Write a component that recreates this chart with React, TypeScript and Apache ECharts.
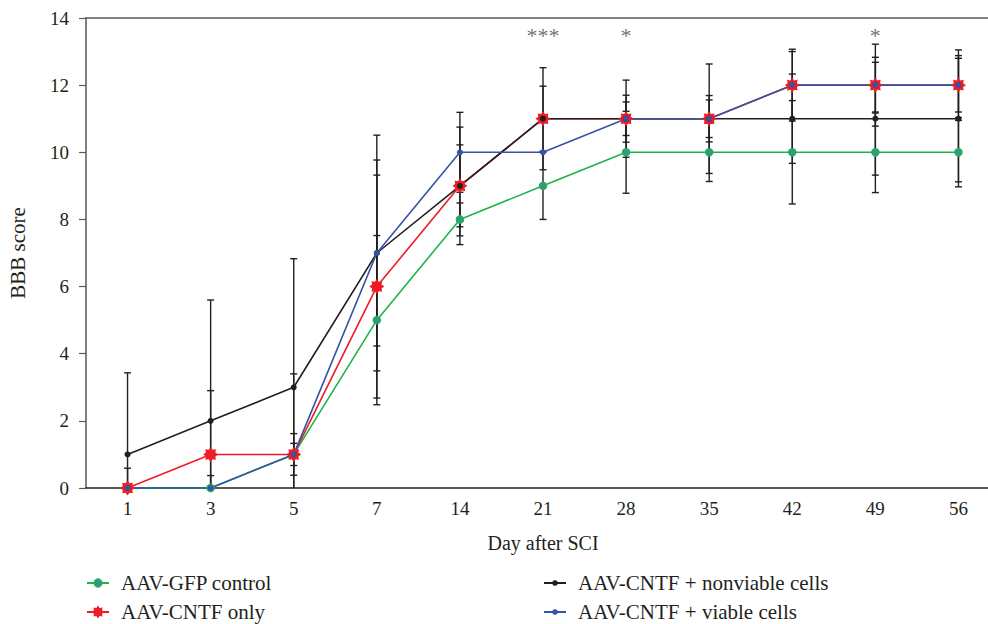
import React, { useEffect, useRef } from 'react';
import * as echarts from 'echarts';

const days = ['1', '3', '5', '7', '14', '21', '28', '35', '42', '49', '56'];

const gfpMean = [0, 0, 1, 5, 8, 9, 10, 10, 10, 10, 10];
const gfpSd = [0, 0.37, 0.62, 2.52, 0.49, 1.0, 1.22, 0.87, 1.54, 1.2, 1.03];

const cntfMean = [0, 1, 1, 6, 9, 11, 11, 11, 12, 12, 12];
const cntfSd = [0.59, 1.9, 0.33, 3.32, 1.75, 1.52, 1.15, 1.63, 1.07, 1.22, 1.05];

const nonMean = [1, 2, 3, 7, 9, 11, 11, 11, 11, 11, 11];
const nonSd = [2.43, 3.6, 3.83, 3.51, 1.22, 0.97, 0.5, 0.56, 1.33, 1.68, 1.88];

const viaMean = [0, 0, 1, 7, 10, 10, 11, 11, 12, 12, 12];
const viaSd = [0, 0, 2.4, 2.77, 1.19, 0, 0.7, 0.69, 1.0, 0.83, 0.8];

const seriesNames = [
  'AAV-GFP control',
  'AAV-CNTF only',
  'AAV-CNTF + nonviable cells',
  'AAV-CNTF + viable cells',
];

const sigDays = ['21', '28', '49'];
const sigLabels = ['***', '*', '*'];
const sigLevel = 13.55;

const yTicks = { min: 0, max: 14, interval: 2 };

const FONT = 'Liberation Serif';
const TXT = '#231f20';

function starPath(): string {
  const pts: string[] = [];
  const n = 16;
  for (let i = 0; i < n; i++) {
    const a = (i * Math.PI * 2) / n - Math.PI / 2;
    const r = i % 2 === 0 ? 1 : 0.68;
    const x = 1 + r * Math.cos(a);
    const y = 1 + r * Math.sin(a);
    pts.push((i === 0 ? 'M' : 'L') + x.toFixed(3) + ' ' + y.toFixed(3));
  }
  return 'path://' + pts.join(' ') + ' Z';
}

export default function App() {
  const ref = useRef<HTMLDivElement>(null);
  useEffect(() => {
    const chart = echarts.init(ref.current!, null, { renderer: 'svg' });

    const errData: number[][] = [];
    const groups = [
      [gfpMean, gfpSd],
      [cntfMean, cntfSd],
      [nonMean, nonSd],
      [viaMean, viaSd],
    ];
    groups.forEach(([m, s]) => {
      m.forEach((v, i) => {
        if (s[i] > 0) errData.push([i, v - s[i], v + s[i]]);
      });
    });

    const lineBase = {
      type: 'line' as const,
      showSymbol: true,
      z: 3,
    };

    const legendText = {
      fontFamily: FONT,
      fontSize: 21,
      lineHeight: 22,
      color: TXT,
      padding: [0, 0, 0, 7],
    };
    const mkLegend = (name: string, left: number, top: number, iconH: number) => ({
      data: [name],
      orient: 'vertical',
      left,
      top: top - 11,
      height: 40,
      itemWidth: 22,
      itemHeight: iconH,
      padding: 0,
      textStyle: legendText,
    });

    const option: any = {
      animation: false,
      backgroundColor: '#ffffff',
      textStyle: { fontFamily: FONT, color: TXT },
      grid: {
        left: 86,
        top: 18,
        bottom: 136,
        right: -12,
        containLabel: false,
        outerBoundsMode: 'none',
      },
      xAxis: [
        {
          type: 'category',
          data: days,
          boundaryGap: true,
          name: 'Day after SCI',
          nameLocation: 'middle',
          nameGap: 45,
          nameTextStyle: { fontFamily: FONT, fontSize: 20, color: TXT },
          axisLine: { lineStyle: { color: TXT, width: 1.5 } },
          axisTick: { alignWithLabel: true, length: 6, lineStyle: { color: TXT, width: 1.2 } },
          axisLabel: { fontFamily: FONT, fontSize: 19, color: TXT, margin: 11 },
          splitLine: { show: false },
        },
        {
          type: 'category',
          data: days,
          position: 'top',
          axisLine: { show: true, lineStyle: { color: '#58595b', width: 1.5 } },
          axisTick: { show: false },
          axisLabel: { show: false },
          splitLine: { show: false },
        },
      ],
      yAxis: {
        type: 'value',
        min: yTicks.min,
        max: yTicks.max,
        interval: yTicks.interval,
        name: 'BBB score',
        nameLocation: 'middle',
        nameGap: 58,
        nameTextStyle: { fontFamily: FONT, fontSize: 21, color: TXT },
        axisLine: { show: true, lineStyle: { color: '#58595b', width: 1.5 } },
        axisTick: { show: true, length: 7, lineStyle: { color: '#58595b', width: 1.2 } },
        axisLabel: { fontFamily: FONT, fontSize: 19, color: TXT, margin: 17 },
        splitLine: { show: false },
      },
      legend: [
        mkLegend(seriesNames[0], 86, 583, 9),
        mkLegend(seriesNames[1], 86, 612, 16),
        mkLegend(seriesNames[2], 543, 583, 7),
        mkLegend(seriesNames[3], 543, 612, 7),
      ],
      series: [
        {
          type: 'custom',
          name: 'err',
          z: 2,
          clip: true,
          silent: true,
          data: errData,
          encode: { x: 0, y: [1, 2] },
          renderItem: (params: any, api: any) => {
            const x = api.value(0);
            const lo = api.value(1);
            const hi = api.value(2);
            const top = api.coord([x, hi]);
            const bot = api.coord([x, lo]);
            const hw = 3.5;
            const st = { stroke: TXT, lineWidth: 1.4 };
            return {
              type: 'group',
              children: [
                { type: 'line', shape: { x1: top[0], y1: top[1], x2: bot[0], y2: bot[1] }, style: st },
                { type: 'line', shape: { x1: top[0] - hw, y1: top[1], x2: top[0] + hw, y2: top[1] }, style: st },
                { type: 'line', shape: { x1: bot[0] - hw, y1: bot[1], x2: bot[0] + hw, y2: bot[1] }, style: st },
              ],
            };
          },
        },
        {
          ...lineBase,
          name: seriesNames[0],
          data: gfpMean,
          symbol: 'circle',
          symbolSize: 7,
          lineStyle: { color: '#1db34b', width: 1.6 },
          itemStyle: { color: '#3b8fa0', borderColor: '#1db34b', borderWidth: 1.6 },
        },
        {
          ...lineBase,
          name: seriesNames[1],
          data: cntfMean,
          symbol: starPath(),
          symbolSize: 15,
          lineStyle: { color: '#ee1c25', width: 1.6 },
          itemStyle: { color: '#ee1c25' },
        },
        {
          ...lineBase,
          name: seriesNames[2],
          data: nonMean,
          symbol: 'circle',
          symbolSize: 6,
          lineStyle: { color: '#231f20', width: 1.6 },
          itemStyle: { color: '#231f20' },
        },
        {
          ...lineBase,
          name: seriesNames[3],
          data: viaMean,
          symbol: 'circle',
          symbolSize: 6,
          lineStyle: { color: '#3653a4', width: 1.6 },
          itemStyle: { color: '#3653a4' },
        },
        {
          type: 'scatter',
          name: 'sig',
          symbolSize: 0,
          silent: true,
          z: 4,
          data: sigDays.map((d, i) => ({
            value: [days.indexOf(d), sigLevel],
            label: { formatter: sigLabels[i] },
          })),
          label: {
            show: true,
            position: 'inside',
            fontFamily: FONT,
            fontSize: 22,
            color: '#4d4d4f',
            offset: [0, 2],
          },
        },
      ],
    };
    chart.setOption(option);
    return () => chart.dispose();
  }, []);
  return (
    <div
      ref={ref}
      style={{ position: 'fixed', left: 0, top: 0, width: 988, height: 624, background: '#fff' }}
    />
  );
}
